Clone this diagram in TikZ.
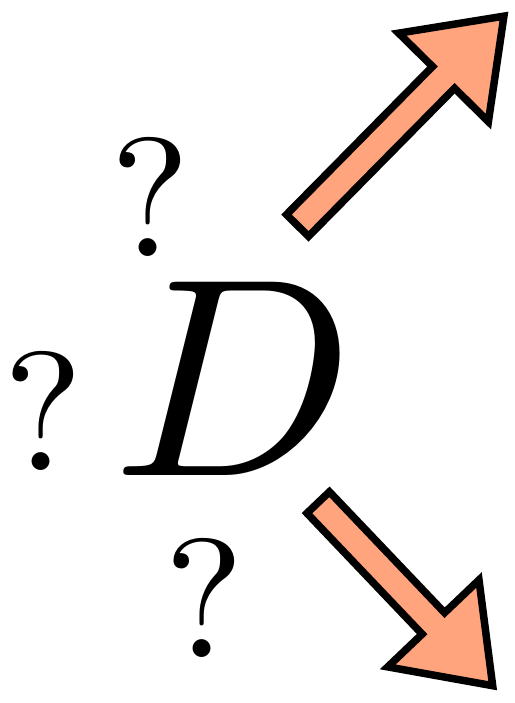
\documentclass[tikz,border=0pt]{standalone}
\usepackage{amsmath,amssymb}
\usepackage{xcolor}
\usepackage{tikz}
\usetikzlibrary{calc,positioning}
\definecolor{arrc}{HTML}{FFA47C}
\tikzset{
  fat/.style={draw=black,line width=7.5pt,miter limit=10,fill=arrc},
  qm/.style={inner sep=0pt,anchor=base,scale=16.9},
  bigd/.style={inner sep=0pt,anchor=base,scale=28.3},
  pics/fatarrow/.style={code={
    \draw[fat] (0,-15.5) -- (#1-86,-15.5) -- (#1-86,-63) -- (#1,0) -- (#1-86,63) -- (#1-86,15.5) -- (0,15.5) -- cycle;
  }}
}
\begin{document}
\begin{tikzpicture}[x=1pt,y=1pt]
\useasboundingbox (0,0) rectangle (514,703);
\node[bigd] (d) at (234,228) {$D$};
\node[qm] (q1) at (150,446) {?}; \node[qm] (q2) at (43.5,233) {?}; \node[qm] (q3) at (204,46) {?};
\pic[rotate=45.4] (up) at (297.5,477.5) {fatarrow=294};
\pic[rotate=-46.4] (down) at (318.2,200.5) {fatarrow=253};
\end{tikzpicture}
\end{document}
